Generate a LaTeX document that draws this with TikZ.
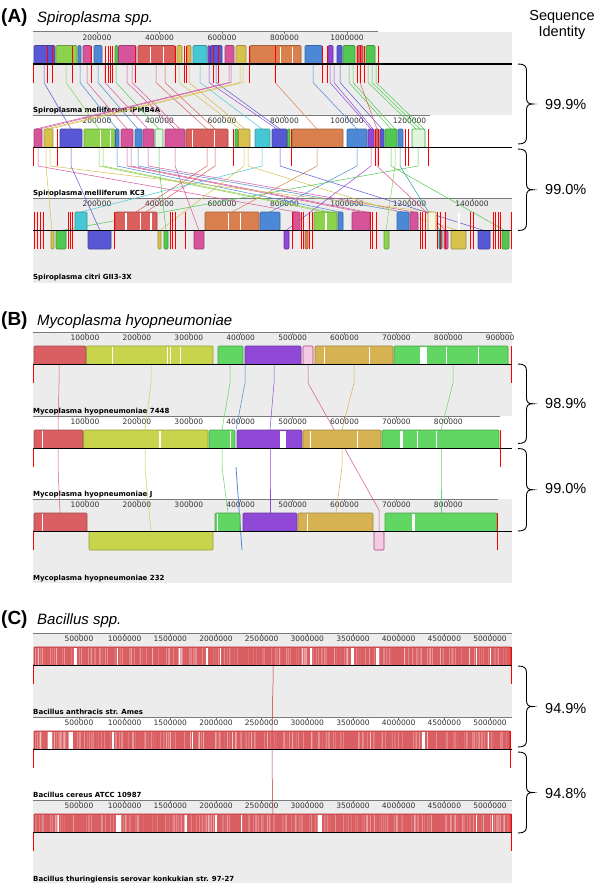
\documentclass[tikz,border=0pt]{standalone}
\usepackage{fontspec}
\setmainfont{Liberation Sans}
\newfontfamily\dvs{DejaVu Sans}
\definecolor{bggray}{HTML}{ECECEC}
\definecolor{rulgray}{HTML}{7A7A7A}
\definecolor{cRed}{HTML}{D95F63}
\definecolor{cRedB}{HTML}{C02A2E}
\definecolor{cBlue}{HTML}{5858D6}
\definecolor{cBlue2}{HTML}{4C88D6}
\definecolor{cLGreen}{HTML}{8CD24C}
\definecolor{cPink}{HTML}{D6549A}
\definecolor{cGreen}{HTML}{52C852}
\definecolor{cMGreen}{HTML}{62D662}
\definecolor{cSalmon}{HTML}{D9605C}
\definecolor{cKhaki}{HTML}{D6C04E}
\definecolor{cGold}{HTML}{D6B252}
\definecolor{cCyan}{HTML}{46C8D4}
\definecolor{cPurple}{HTML}{9048D6}
\definecolor{cOrange}{HTML}{D9804E}
\definecolor{cTeal}{HTML}{2A9A9A}
\definecolor{cYG}{HTML}{C8D44C}
\tikzset{
  bg/.style={fill=bggray, draw=none},
  blk/.style={rounded corners=1pt, line width=0.6pt},
  redln/.style={draw=red, line width=0.9pt},
  conn/.style={line width=0.5pt},
  ctr/.style={draw=black, line width=1.1pt},
  rul/.style={draw=rulgray, line width=0.8pt},
  ticklab/.style={font=\dvs\fontsize{7.5}{8}\selectfont, text=black!80, inner sep=0pt},
  gname/.style={font=\dvs\bfseries\fontsize{7}{8}\selectfont, inner sep=0pt, anchor=base west},
  ttl/.style={font=\bfseries\fontsize{19}{22}\selectfont, inner sep=0pt, anchor=base west},
  spc/.style={font=\itshape\fontsize{15}{18}\selectfont, inner sep=0pt, anchor=base west},
  pct/.style={font=\fontsize{14.5}{17}\selectfont, inner sep=0pt, anchor=west},
  hdr/.style={font=\fontsize{14.5}{17}\selectfont, inner sep=0pt, anchor=base},
  brk/.style={draw=black, line width=0.9pt},
}
% blocks using current \T
\newcommand\UB[3]{\filldraw[blk,fill=#3,draw=#3!75!black] (#1,\T+14) rectangle (#2,\T+32.5);}
\newcommand\LB[3]{\filldraw[blk,fill=#3,draw=#3!75!black] (#1,\T+32.5) rectangle (#2,\T+51);}
\newcommand\OUB[3]{\filldraw[blk,fill=#3!18,draw=#3!80!black] (#1,\T+14) rectangle (#2,\T+32.5);}
\newcommand\RL[1]{\foreach \xx in {#1} \draw[redln] (\xx,\T+14) -- (\xx,\T+51);}
\newcommand\WS[1]{\foreach \xa/\xb in {#1} \fill[white] (\xa,\T+15) rectangle (\xb,\T+31.7);}
\newcommand\CU[5]{\draw[conn,draw=#5] (#1,#2+32.5) -- (#1,#2+51) -- (#3,#4+14);}
\newcommand\CL[5]{\draw[conn,draw=#5] (#1,#2+32.5) -- (#1,#2+51) -- (#3,#4+32.5);}
\newcommand\CTR{\draw[ctr] (33,\T+32.5) -- (512,\T+32.5);}
% ruler: #1 xend, #2 x0, #3 dx, #4 kmax, #5 label multiplier, #6 name prefix
\newcommand\RULER[6]{\draw[rul] (33,\T) -- (#1,\T);
  \foreach \k in {1,...,#4}{\pgfmathsetmacro\tx{#2+#3*\k}
    \draw[rul,line width=0.6pt] (\tx,\T) -- (\tx,\T+2.5);
    \node[ticklab] (#6\k) at (\tx,\T+6.2) {\the\numexpr#5*\k\relax00000};}}
\newcommand\BRK[2]{\pgfmathsetmacro\mm{(#1+#2)/2}
  \draw[brk] (518,#1) .. controls (524.5,#1) and (526.5,#1+2) .. (526.5,#1+7) -- (526.5,\mm-6)
    .. controls (526.5,\mm-1.5) and (528.5,\mm) .. (533,\mm)
    .. controls (528.5,\mm) and (526.5,\mm+1.5) .. (526.5,\mm+6) -- (526.5,#2-7)
    .. controls (526.5,#2-2) and (524.5,#2) .. (518,#2);}
\newcommand\BACBLOCK[4]{% #1 xend, #2 seed, #3 gaps, #4 end red line
  \fill[cRed] (34,\T+14) rectangle (#1,\T+32.5);
  \pgfmathsetseed{#2}
  \foreach \i in {1,...,220}{\pgfmathsetmacro\xx{35+(#1-36)*rnd}\pgfmathsetmacro\oo{0.05+0.3*rnd}
    \draw[white,opacity=\oo,line width=0.4pt] (\xx,\T+15) -- (\xx,\T+31.8);}
  \WS{#3}
  \draw[blk,draw=cRedB,line width=0.8pt] (34,\T+14) rectangle (#1,\T+32.5);
  \draw[redln] (#4,\T+14) -- (#4,\T+51);
  \draw[redln] (33.5,\T+32.5) -- (33.5,\T+51);}
\begin{document}
\begin{tikzpicture}[x=1pt,y=-1pt]
\useasboundingbox (0,0) rectangle (600,889);
\fill[white] (0,0) rectangle (600,889);
% ---------- backgrounds ----------
\fill[bg] (33,31.5) rectangle (512,114.5);
\fill[bg] (33,198) rectangle (512,282.5);
\fill[bg] (33,332) rectangle (512,415.5);
\fill[bg] (33,499) rectangle (512,582.5);
\fill[bg] (33,633) rectangle (512,716.5);
\fill[bg] (33,800) rectangle (512,883);
% ---------- titles ----------
\node[ttl] (tA) at (1,22) {(A)};
\node[spc] (sA) at (37,22) {Spiroplasma spp.};
\node[ttl] (tB) at (1,325) {(B)};
\node[spc] (sB) at (37,325) {Mycoplasma hyopneumoniae};
\node[ttl] (tC) at (1,624) {(C)};
\node[spc] (sC) at (37,624) {Bacillus spp.};
\node[hdr] (h1) at (562,20) {Sequence};
\node[hdr] (h2) at (562,36.5) {Identity};
% ---------- genome names ----------
\node[gname] (nA1) at (33,112) {Spiroplasma melliferum IPMB4A};
\node[gname] (nA2) at (33,195.5) {Spiroplasma melliferum KC3};
\node[gname] (nA3) at (33,279.5) {Spiroplasma citri GII3-3X};
\node[gname] (nB1) at (33,413) {Mycoplasma hyopneumoniae 7448};
\node[gname] (nB2) at (33,496.5) {Mycoplasma hyopneumoniae J};
\node[gname] (nB3) at (33,580) {Mycoplasma hyopneumoniae 232};
\node[gname] (nC1) at (33,714) {Bacillus anthracis str. Ames};
\node[gname] (nC2) at (33,797.5) {Bacillus cereus ATCC 10987};
\node[gname] (nC3) at (33,881) {Bacillus thuringiensis serovar konkukian str. 97-27};
% ---------- rulers ----------
\def\T{31.5}\RULER{378}{34.5}{62.5}{5}{2}{ra}
\def\T{115}\RULER{430}{34.5}{62.5}{6}{2}{rb}
\def\T{198}\RULER{512}{34.5}{62.5}{7}{2}{rc}
\def\T{332}\RULER{512}{33.1}{51.9}{9}{1}{rd}
\def\T{416}\RULER{500}{33.1}{51.9}{8}{1}{re}
\def\T{499}\RULER{498}{33.1}{51.9}{8}{1}{rf}
\def\T{633}\RULER{512}{33.3}{45.67}{10}{5}{rg}
\def\T{717}\RULER{512}{33.3}{45.67}{10}{5}{rh}
\def\T{800}\RULER{512}{33.3}{45.67}{10}{5}{ri}
% ---------- connectors panel A ----------
\foreach \xa/\xb/\cl in {44/71/cBlue, 66/99/cLGreen, 80/117/cBlue2, 87/127/cPink, 98/138/cBlue2,
  105/148/cPink, 116/159/cGreen, 127/175/cPink, 132/180/cPink, 156/207/cSalmon, 165/215/cSalmon,
  179/240/cKhaki, 189/245/cGold, 200/262/cCyan, 209/277/cPurple, 216/280/cBlue, 229/36/cPink,
  231/40/cPink, 240/46/cKhaki, 243/50/cKhaki, 275/317/cOrange, 313/357/cBlue2, 330/371/cPurple,
  334/373/cPurple, 340/382/cBlue, 349/391/cGreen, 353/395/cGreen, 360/377/cSalmon, 368/416/cGreen,
  372/420/cGreen, 376/424/cGreen}
  \CU{\xa}{31.5}{\xb}{115}{\cl};
\foreach \xa/\xb/\cl in {99/325/cLGreen, 103/330/cLGreen, 117/340/cBlue2, 127/361/cPink, 131/366/cPink,
  138/403/cBlue2, 148/414/cPink, 207/136/cSalmon, 215/146/cSalmon, 262/81/cCyan, 317/232/cOrange,
  357/270/cBlue2, 38/296/cPink, 50/432/cKhaki}
  \CU{\xa}{115}{\xb}{198}{\cl};
\foreach \xa/\xb/\cl in {71/100/cBlue, 159/166/cGreen, 175/199/cPink, 244/160/cKhaki, 248/458/cKhaki,
  280/484/cBlue, 371/286/cPurple, 391/505/cGreen, 395/386/cLGreen, 418/61/cGreen, 46/52/cKhaki,
  377/446/cPink, 400/440/cTeal}
  \CL{\xa}{115}{\xb}{198}{\cl};
% ---------- panel A genome 1 ----------
\def\T{31.5}
\foreach \xa/\xb/\cl in {34/55/cBlue, 56/77/cLGreen, 78/81/cBlue2, 83/91/cPink, 94/102/cBlue2,
  115/118/cGreen, 118.5/136/cPink, 138/175/cSalmon, 177/182/cKhaki, 187/191/cGold, 193/207/cCyan,
  208/210/cPurple, 210.5/222/cBlue, 225/234/cPink, 236/246/cKhaki, 250/301/cOrange, 305/322/cBlue2,
  328/333/cPurple, 337/342/cBlue, 343/355/cGreen, 357/363/cSalmon, 366/375/cGreen}
  \UB{\xa}{\xb}{\cl};
\WS{150/151, 163/164.2, 280/281, 292/293}
\RL{47, 52, 72, 91.5, 105, 108, 110, 112, 135, 175.5, 184, 186, 213, 218, 249, 275, 322.5, 327, 357, 360, 364, 378}
\draw[redln] (33.5,\T+32.5) -- (33.5,\T+51);
\CTR
% ---------- panel A genome 2 ----------
\def\T{115}
\foreach \xa/\xb/\cl in {34/42/cPink, 44/53/cKhaki, 60/82/cBlue, 84/115/cLGreen, 115.5/119/cBlue2,
  121/133/cPink, 135/142/cBlue2, 143/154/cPink, 165/185/cPink, 186/228/cSalmon, 235/238/cGreen,
  238.5/250/cKhaki, 255/270/cCyan, 272/287/cBlue, 287.5/290/cGreen, 292/343/cOrange, 347/367/cBlue2,
  368/374/cPurple, 375/379/cSalmon, 380/384/cBlue, 385/397/cGreen, 398/403/cBlue2}
  \UB{\xa}{\xb}{\cl};
\OUB{155}{163}{cGreen}
\OUB{412}{425}{cGreen}
\WS{99.5/101, 109.5/111, 192/193, 214/215}
\RL{57, 233, 291, 375.5, 378, 405, 408, 428}
\draw[redln] (33.5,\T+32.5) -- (33.5,\T+51);
\CTR
% ---------- panel A genome 3 ----------
\def\T{198}
\foreach \xa/\xb/\cl in {75/87/cCyan, 115/157/cSalmon, 205/259/cOrange, 260/280/cBlue2, 293/300/cPink,
  314/337/cLGreen, 338/343/cBlue2, 352/370/cPink, 397/409/cBlue2, 410/418/cPink}
  \UB{\xa}{\xb}{\cl};
\OUB{428}{436}{cKhaki}
\foreach \xa/\xb/\cl in {51/54/cKhaki, 56/66/cGreen, 88/111/cBlue, 158/161/cKhaki, 164/168/cGreen,
  194/204/cPink, 284/289/cPurple, 305/308/cOrange, 384/389/cLGreen, 439/442/cTeal, 444/448/cPink,
  451/466/cKhaki, 478/490/cBlue, 502/509/cGreen}
  \LB{\xa}{\xb}{\cl};
\WS{125/126.5, 140/141, 150/151.5, 228/229, 240/241, 325/327, 458/460}
\RL{34, 37, 40, 43, 68, 70, 72.5, 114, 170, 172, 175.5, 185, 292, 301, 303.5, 309, 312, 370, 372, 376,
  420, 422, 425, 437, 440, 445, 470, 473, 493, 495, 498, 500, 511.5}
\CTR
% ---------- connectors panel B ----------
\foreach \xa/\xb/\cl in {59/58/cRed, 151/145/cYG, 230/222/cMGreen, 245/236/cBlue2, 274/270/cPurple,
  354/342/cGold, 453/441/cMGreen}
  \CU{\xa}{332}{\xb}{416}{\cl};
\draw[conn,draw=cPink] (308,364.5) -- (308,383) -- (379,510) -- (379,531.5);
\foreach \xa/\xb/\cl in {58/60/cRed, 222/228/cMGreen, 270/270/cPurple, 342/336/cGold, 441/441/cMGreen}
  \CU{\xa}{416}{\xb}{499}{\cl};
\CL{145}{416}{151}{499}{cYG}
\draw[conn,draw=cBlue2,line width=0.8pt] (236,467) -- (242,550);
% ---------- panel B genome 1 ----------
\def\T{332}
\foreach \xa/\xb/\cl in {34/86/cRed, 86.5/213/cYG, 218/243/cMGreen, 245/301/cPurple, 315/393/cGold,
  394/508/cMGreen}
  \UB{\xa}{\xb}{\cl};
\filldraw[blk,fill=cPink!30,draw=cPink!80!black] (303,\T+14) rectangle (313,\T+32.5);
\WS{112/113, 166.5/167.5, 170/171, 179.5/180.5, 324/324.8, 369/370, 420/427, 445.5/446.5, 478/479}
\draw[redln] (511,\T+14) -- (511,\T+51);
\draw[redln] (33.5,\T+32.5) -- (33.5,\T+51);
\CTR
% ---------- panel B genome 2 ----------
\def\T{416}
\foreach \xa/\xb/\cl in {34/83/cRed, 83.5/208/cYG, 209/235/cMGreen, 237/302/cPurple, 303/381/cGold,
  382/499/cMGreen}
  \UB{\xa}{\xb}{\cl};
\WS{42/43, 159/161, 230/231, 280/286, 310/311, 357/358, 400/403, 417/418, 436/437}
\draw[redln] (500,\T+14) -- (500,\T+51);
\draw[redln] (33.5,\T+32.5) -- (33.5,\T+51);
\CTR
% ---------- panel B genome 3 ----------
\def\T{499}
\foreach \xa/\xb/\cl in {34/87/cRed, 215/240/cMGreen, 243/297/cPurple, 298/373/cGold, 385/497/cMGreen}
  \UB{\xa}{\xb}{\cl};
\LB{89}{213}{cYG}
\filldraw[blk,fill=cPink!30,draw=cPink!80!black] (374,\T+32.5) rectangle (384,\T+51);
\WS{42/43, 217/218, 307/308, 412/415}
\draw[redln] (497,\T+14) -- (497,\T+51);
\draw[redln] (33.5,\T+32.5) -- (33.5,\T+51);
\CTR
% ---------- panel C ----------
\draw[conn,draw=cRedB] (273,665.5) -- (273,684) -- (272,731);
\draw[conn,draw=cRedB] (272,749.5) -- (272,768) -- (273,814);
\def\T{633}
\BACBLOCK{511}{11}{74/77, 116.5/117.5, 178.5/180, 206/208, 219.5/221, 310/312, 350.5/353.5, 376/379, 475.5/476.5, 489.5/490.5}{511}
\CTR
\def\T{717}
\BACBLOCK{510}{23}{48/51.5, 68.5/72.5, 112/114, 192/193, 422/425, 488/489}{510}
\CTR
\def\T{800}
\BACBLOCK{511}{37}{57.5/59, 116/121, 185/186.5, 215/216.5, 240.5/242, 318/321.5, 475.5/476.5, 491.5/492.5}{511}
\CTR
% ---------- brackets & percentages ----------
\BRK{64}{144}
\BRK{149}{230.5}
\BRK{364}{443.5}
\BRK{448.5}{531}
\BRK{666}{747}
\BRK{752}{833}
\node[pct] (p1) at (545,105) {99.9\%};
\node[pct] (p2) at (545,190) {99.0\%};
\node[pct] (p3) at (545,404) {98.9\%};
\node[pct] (p4) at (545,489) {99.0\%};
\node[pct] (p5) at (545,708) {94.9\%};
\node[pct] (p6) at (545,793) {94.8\%};
\end{tikzpicture}
\end{document}
